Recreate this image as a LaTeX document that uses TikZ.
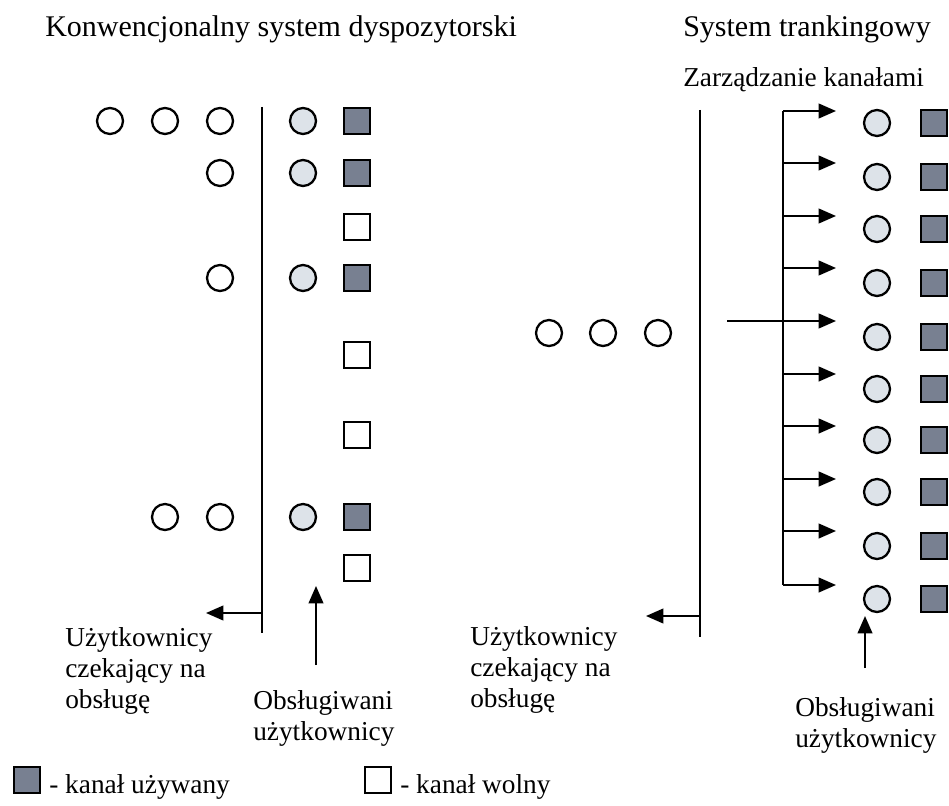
\documentclass[tikz,border=0pt]{standalone}
\usepackage{fontspec}
\setmainfont{Liberation Serif}
\usetikzlibrary{arrows.meta}
\definecolor{servedfill}{RGB}{221,227,233}
\definecolor{busyfill}{RGB}{120,128,145}
\begin{document}
\begin{tikzpicture}[x=0.75pt,y=-0.75pt,
  user/.style={circle,draw,line width=1.7pt,minimum size=19.5pt,inner sep=0pt,fill=white},
  served/.style={user,fill=servedfill},
  busy/.style={rectangle,draw,line width=1.7pt,minimum size=19.5pt,inner sep=0pt,fill=busyfill},
  free/.style={rectangle,draw,line width=1.4pt,minimum size=19.5pt,inner sep=0pt,fill=white},
  ttl/.style={font=\fontsize{22.5}{26}\selectfont,inner sep=0pt},
  lbl/.style={font=\fontsize{20.5}{23}\selectfont,inner sep=0pt,align=left},
  wire/.style={line width=1.5pt},
  arr/.style={wire,-{Triangle[length=13pt,width=11pt]}}
]
\useasboundingbox (0,0) rectangle (949,806);

% ---------- conventional dispatch system ----------
\node[ttl,anchor=base west] (t1) at (45,37) {Konwencjonalny system dyspozytorski};

% waiting users
\node[user] (w1a) at (110,121) {};
\node[user] (w1b) at (165,121) {};
\node[user] (w1c) at (220,121) {};
\node[user] (w2)  at (220,173) {};
\node[user] (w3)  at (220,278) {};
\node[user] (w4a) at (165,517) {};
\node[user] (w4b) at (220,517) {};

% queue boundary
\coordinate (q1top) at (262,107);
\coordinate (q1bot) at (262,633);
\draw[wire] (q1top) -- (q1bot);

% served users
\node[served] (s1) at (303,121) {};
\node[served] (s2) at (303,173) {};
\node[served] (s3) at (303,278) {};
\node[served] (s4) at (303,517) {};

% channels
\node[busy] (c1) at (357,121) {};
\node[busy] (c2) at (357,173) {};
\node[free] (c3) at (357,227) {};
\node[busy] (c4) at (357,278) {};
\node[free] (c5) at (357,355) {};
\node[free] (c6) at (357,435) {};
\node[busy] (c7) at (357,517) {};
\node[free] (c8) at (357,568) {};

% labels and pointers
\coordinate (q1out) at (262,613);
\coordinate (q1tip) at (206,613);
\draw[arr] (q1out) -- (q1tip);
\node[lbl,anchor=base west] (lw1) at (65,708) {Użytkownicy\\czekający na\\obsługę};

\coordinate (up1from) at (316,665);
\coordinate (up1to) at (316,586);
\draw[arr] (up1from) -- (up1to);
\node[lbl,anchor=base west] (ls1) at (253,740) {Obsługiwani\\użytkownicy};

% ---------- trunking system ----------
\node[ttl,anchor=base west] (t2) at (683,37) {System trankingowy};
\node[lbl,anchor=base west] (t3) at (683,87) {Zarządzanie kanałami};

\node[user] (rw1) at (549,333) {};
\node[user] (rw2) at (603,333) {};
\node[user] (rw3) at (658,333) {};

\coordinate (q2top) at (700,110);
\coordinate (q2bot) at (700,637);
\draw[wire] (q2top) -- (q2bot);

% channel-management bus
\coordinate (bustop) at (783,111);
\coordinate (busbot) at (783,585);
\draw[wire] (bustop) -- (busbot);

\foreach \i/\cy/\ay in {1/123/111, 2/177/163, 3/229/216, 4/283/268, 5/337/321,
                        6/389/374, 7/440/426, 8/492/479, 9/546/531, 10/599/585} {
  \node[served] (rs\i) at (877,\cy) {};
  \node[busy] (rc\i) at (934,\cy) {};
  \coordinate (b\i) at (783,\ay);
  \coordinate (e\i) at (836,\ay);
  \draw[arr] (b\i) -- (e\i);
}

% incoming request line into the bus
\coordinate (inreq) at (727,321);
\draw[wire] (inreq) -- (b5);

\coordinate (q2out) at (700,616);
\coordinate (q2tip) at (646,616);
\draw[arr] (q2out) -- (q2tip);
\node[lbl,anchor=base west] (lw2) at (470,707) {Użytkownicy\\czekający na\\obsługę};

\coordinate (up2from) at (865,668);
\coordinate (up2to) at (865,616);
\draw[arr] (up2from) -- (up2to);
\node[lbl,anchor=base west] (ls2) at (795,747) {Obsługiwani\\użytkownicy};

% ---------- legend ----------
\node[busy] (kb) at (27,780) {};
\node[lbl,anchor=base west] (kbt) at (49,793) {- kanał używany};
\node[free] (kf) at (378,780) {};
\node[lbl,anchor=base west] (kft) at (400,793) {- kanał wolny};
\end{tikzpicture}
\end{document}
